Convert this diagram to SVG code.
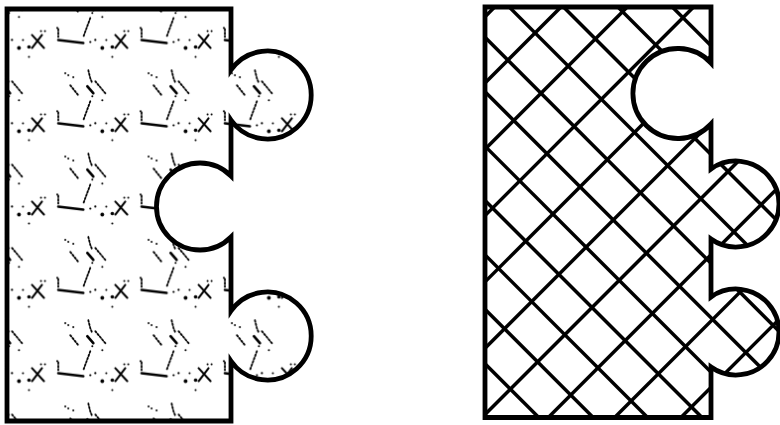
<svg xmlns="http://www.w3.org/2000/svg" xmlns:xlink="http://www.w3.org/1999/xlink" width="780" height="425" viewBox="0 0 780 425">
  <style>
    .outline { fill: none; stroke: #000; stroke-width: 4.8; stroke-linejoin: miter; }
    .hatch { stroke: #000; stroke-width: 3.5; }
    .sc { fill: none; stroke: #000; stroke-linecap: round; }
    .dt { fill: none; stroke: #000; stroke-width: 1.8; stroke-dasharray: 1.6 1.9; stroke-linecap: round; }
    .bl { fill: #000; }
  </style>
  <defs>
    <g id="motif">
      <path class="sc" d="M61,51 L73,64 M71,51 L61,64" stroke-width="2"/>
      <circle class="bl" cx="11" cy="6" r="1"/>
      <circle class="bl" cx="14" cy="8" r="1"/>
      <circle class="bl" cx="19" cy="10" r="1"/>
      <path class="dt" d="M16,18 L24,28"/>
      <path class="dt" d="M34,3 L36,11 L38,16"/>
      <path class="sc" d="M33,19 L39,26" stroke-width="2.6"/>
      <path class="dt" d="M41,14 L51,26"/>
      <circle class="bl" cx="48" cy="33" r="1"/>
      <circle class="bl" cx="38" cy="29" r="1"/>
      <path class="dt" d="M36,34 L29,53"/>
      <circle class="bl" cx="3" cy="44" r="1"/>
      <path class="dt" d="M4,45 L4,53"/>
      <path class="sc" d="M4,56 L29,59" stroke-width="2.6"/>
      <circle class="bl" cx="36" cy="58" r="1.1"/>
      <circle class="bl" cx="41" cy="56" r="1.1"/>
      <circle class="bl" cx="48" cy="64" r="1.9"/>
      <circle class="bl" cx="58" cy="63" r="1.8"/>
      <circle class="bl" cx="58" cy="73" r="1"/>
      <circle class="bl" cx="52" cy="56" r="1"/>
      <circle class="bl" cx="70" cy="47" r="1"/>
      <circle class="bl" cx="74" cy="47" r="1"/>
    </g>
    <pattern id="scribble" patternUnits="userSpaceOnUse" x="-29" y="-16" width="83.3" height="83.3">
      <use xlink:href="#motif"/>
    </pattern>
    <clipPath id="clipRight">
      <path d="M485,7 H711 V63 A45,45 0 1 0 711,124 V169 A43,43 0 1 1 711,239 V297 A43,43 0 1 1 711,367 V417.5 H485 Z"/>
    </clipPath>
  </defs>

  <g id="piece-left">
    <path d="M7,9 H231 V70 A44,44 0 1 1 231,120 V176 A43.5,43.5 0 1 0 231,237 V311 A44,44 0 1 1 231,361 V421 H7 Z" fill="#fff"/>
    <path d="M7,9 H231 V70 A44,44 0 1 1 231,120 V176 A43.5,43.5 0 1 0 231,237 V311 A44,44 0 1 1 231,361 V421 H7 Z" fill="url(#scribble)"/>
    <path class="outline" d="M7,9 H231 V70 A44,44 0 1 1 231,120 V176 A43.5,43.5 0 1 0 231,237 V311 A44,44 0 1 1 231,361 V421 H7 Z"/>
  </g>

  <g id="piece-right">
    <path d="M485,7 H711 V63 A45,45 0 1 0 711,124 V169 A43,43 0 1 1 711,239 V297 A43,43 0 1 1 711,367 V417.5 H485 Z" fill="#fff"/>
    <g clip-path="url(#clipRight)" class="hatch">
      <line x1="67" y1="0" x2="492" y2="425"/>
      <line x1="121.3" y1="0" x2="546.3" y2="425"/>
      <line x1="175.7" y1="0" x2="600.7" y2="425"/>
      <line x1="230.1" y1="0" x2="655.1" y2="425"/>
      <line x1="284.5" y1="0" x2="709.5" y2="425"/>
      <line x1="338.9" y1="0" x2="763.9" y2="425"/>
      <line x1="393.3" y1="0" x2="818.3" y2="425"/>
      <line x1="447.7" y1="0" x2="872.7" y2="425"/>
      <line x1="502.1" y1="0" x2="927.1" y2="425"/>
      <line x1="556.5" y1="0" x2="981.5" y2="425"/>
      <line x1="610.9" y1="0" x2="1035.9" y2="425"/>
      <line x1="665.3" y1="0" x2="1090.3" y2="425"/>
      <line x1="719.7" y1="0" x2="1144.7" y2="425"/>
      <line x1="774.1" y1="0" x2="1199.1" y2="425"/>
      <line x1="435.4" y1="0" x2="10.4" y2="425"/>
      <line x1="501.7" y1="0" x2="76.7" y2="425"/>
      <line x1="568" y1="0" x2="143" y2="425"/>
      <line x1="634.3" y1="0" x2="209.3" y2="425"/>
      <line x1="700.6" y1="0" x2="275.6" y2="425"/>
      <line x1="766.9" y1="0" x2="341.9" y2="425"/>
      <line x1="833.2" y1="0" x2="408.2" y2="425"/>
      <line x1="899.5" y1="0" x2="474.5" y2="425"/>
      <line x1="965.8" y1="0" x2="540.8" y2="425"/>
      <line x1="1032.1" y1="0" x2="607.1" y2="425"/>
      <line x1="1098.4" y1="0" x2="673.4" y2="425"/>
      <line x1="1164.7" y1="0" x2="739.7" y2="425"/>
      <line x1="1231" y1="0" x2="806" y2="425"/>
    </g>
    <path class="outline" d="M485,7 H711 V63 A45,45 0 1 0 711,124 V169 A43,43 0 1 1 711,239 V297 A43,43 0 1 1 711,367 V417.5 H485 Z"/>
  </g>
</svg>
